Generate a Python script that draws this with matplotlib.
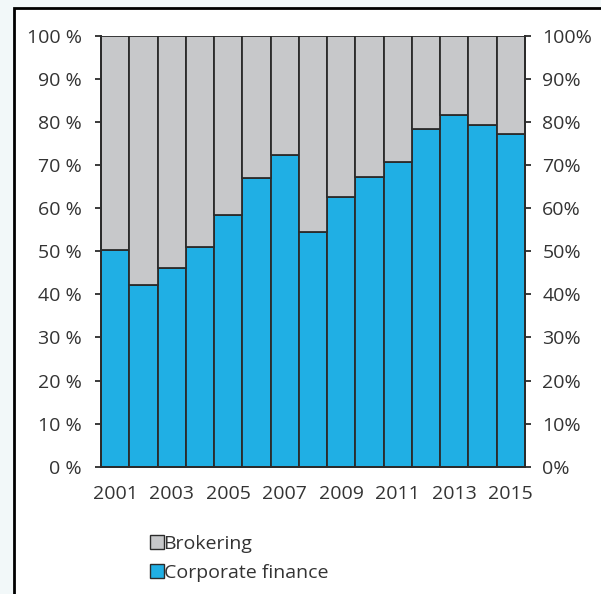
#stacked share chart: corporate finance vs brokering, 2001-2015

import numpy as np
import matplotlib.pyplot as plt
import matplotlib.patches as mpatches

#data (percent of total)
years     = [2001, 2002, 2003, 2004, 2005, 2006, 2007, 2008, 2009, 2010, 2011, 2012, 2013, 2014, 2015]
corp_fin  = [50.2, 42.2, 46.2, 51.0, 58.4, 67.0, 72.4, 54.6, 62.6, 67.2, 70.7, 78.4, 81.6, 79.3, 77.2]
brokering = [100 - v for v in corp_fin]

yticks        = [0, 10, 20, 30, 40, 50, 60, 70, 80, 90, 100]
left_labels   = [str(t) + ' %' for t in yticks]
right_labels  = [str(t) + '%' for t in yticks]

blue  = '#20afe4'
grey  = '#c7c8ca'
edge  = '#2b2b2b'
txt   = '#333333'

plt.rcParams['font.family'] = ['Open Sans', 'DejaVu Sans']
plt.rcParams['font.size'] = 14

fig = plt.figure(figsize=(6.01, 5.94), dpi=100)
fig.patch.set_facecolor('#f2f8f9')

#white panel with black frame (runs off the right and bottom edge)
panel = mpatches.Rectangle((14/601, -0.05), 1.0, (594-8)/594 + 0.05, transform=fig.transFigure,
                           facecolor='white', edgecolor='black', linewidth=2.0, zorder=-10)
fig.patches.append(panel)

ax = fig.add_axes([101/601, (594-466.7)/594, (525-101)/601, (466.7-36)/594])
ax.set_facecolor('none')

x = np.arange(len(years))
ax.bar(x, corp_fin, width=1.0, color=blue, edgecolor=edge, linewidth=1.3, label='Corporate finance')
ax.bar(x, brokering, bottom=corp_fin, width=1.0, color=grey, edgecolor=edge, linewidth=1.3, label='Brokering')

ax.set_xlim(-0.5, len(years) - 0.5)
ax.set_ylim(0, 100)

ax.set_yticks(yticks)
ax.set_yticklabels(left_labels, color=txt)
ax.set_xticks(x[::2])
ax.set_xticklabels([str(y) for y in years[::2]], color=txt)
ax.tick_params(axis='x', length=0, pad=13)
ax.tick_params(axis='y', length=4, width=1.3, color=edge, pad=10)

ax2 = ax.twinx()
ax2.set_ylim(0, 100)
ax2.set_yticks(yticks)
ax2.set_yticklabels(right_labels, color=txt)
ax2.tick_params(axis='y', length=4, width=1.3, color=edge, pad=8.5)

for a in (ax, ax2):
    a.spines['top'].set_visible(False)
    for s in ('left', 'right', 'bottom'):
        a.spines[s].set_color(edge)
        a.spines[s].set_linewidth(1.3)

#legend below the plot
recs = [mpatches.Rectangle((0, 0), 1, 1, fc=grey, ec=edge, lw=1.0),
        mpatches.Rectangle((0, 0), 1, 1, fc=blue, ec=edge, lw=1.0)]
leg = fig.legend(recs, ['Brokering', 'Corporate finance'], loc='upper left',
                 bbox_to_anchor=(150/601, 1 - 535/594), frameon=False,
                 handlelength=0.7, handleheight=0.7, handletextpad=0.0,
                 labelspacing=0.55, borderaxespad=0, borderpad=0)
for t in leg.get_texts():
    t.set_color(txt)

fig.savefig('out.png', dpi=100, facecolor=fig.get_facecolor())
